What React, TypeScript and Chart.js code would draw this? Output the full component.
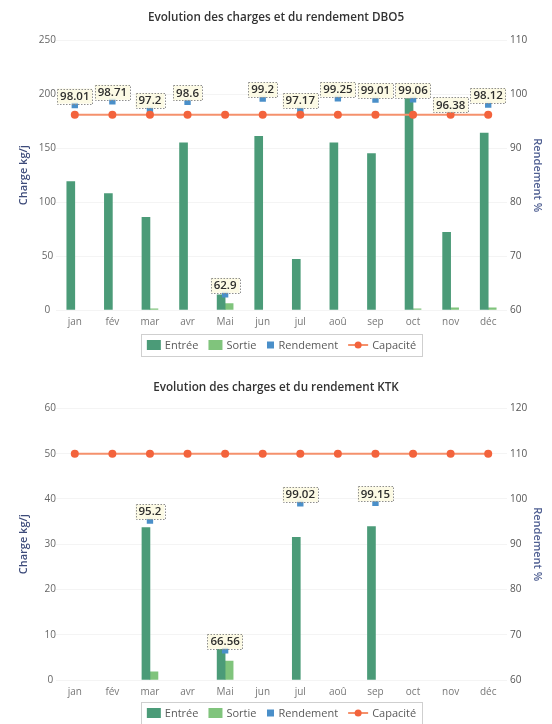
import React, { useEffect, useRef } from "react";
import { Chart, registerables } from "chart.js";

Chart.register(...registerables);

const FONT = "'Open Sans', 'DejaVu Sans', sans-serif";
Chart.defaults.font.family = FONT;

// Months
const months = ["jan", "fév", "mar", "avr", "Mai", "jun", "jul", "aoû", "sep", "oct", "nov", "déc"];

// DBO5 (kg/j and %)
const dbo5Entree = [119, 108, 86, 155, 14, 161, 47, 155, 145, 196, 72, 164];
const dbo5Sortie = [null, null, 1, null, 6, null, null, null, null, 1, 2, 2];
const dbo5Rendement = [98.01, 98.71, 97.2, 98.6, 62.9, 99.2, 97.17, 99.25, 99.01, 99.06, 96.38, 98.12];
const dbo5Capacite = [181, 181, 181, 181, 181, 181, 181, 181, 181, 181, 181, 181];
const dbo5ChargeTicks = [0, 50, 100, 150, 200, 250];
const dbo5RendementTicks = [60, 70, 80, 90, 100, 110];

// KTK (kg/j and %)
const ktkEntree = [null, null, 33.7, null, 6.8, null, 31.5, null, 33.9, null, null, null];
const ktkSortie = [null, null, 1.8, null, 4.2, null, null, null, null, null, null, null];
const ktkRendement = [null, null, 95.2, null, 66.56, null, 99.02, null, 99.15, null, null, null];
const ktkCapacite = [50, 50, 50, 50, 50, 50, 50, 50, 50, 50, 50, 50];
const ktkChargeTicks = [0, 10, 20, 30, 40, 50, 60];
const ktkRendementTicks = [60, 70, 80, 90, 100, 110, 120];

const ENTREE = "#4b9b78";
const SORTIE = "#80c47c";
const RENDEMENT = "#4a8fc9";
const CAP_LINE = "#f5916c";
const CAP_POINT = "#f3633c";

const WIDTH = 536;

// Framed legend drawn under the plot
const boxLegend = {
  id: "boxLegend",
  afterDraw(chart: any, _args: any, opts: any) {
    const { ctx, chartArea } = chart;
    const items = opts.items as { label: string; kind: string; color: string }[];
    ctx.save();
    ctx.font = `11px ${FONT}`;
    const swatchW = (k: string) => (k === "bar" ? 14 : k === "square" ? 8 : 20);
    const gap = 4;
    const spacing = 10;
    let total = 0;
    items.forEach((it, i) => {
      total += swatchW(it.kind) + gap + ctx.measureText(it.label).width;
      if (i < items.length - 1) total += spacing;
    });
    const cx = (chartArea.left + chartArea.right) / 2 + (opts.dx || 0);
    const y = chartArea.bottom + opts.offsetY;
    let x = cx - total / 2;
    ctx.strokeStyle = "#cfcfcf";
    ctx.lineWidth = 1;
    ctx.strokeRect(Math.round(x - 6) + 0.5, Math.round(y - 11) + 0.5, Math.round(total + 12), 22);
    ctx.textBaseline = "middle";
    ctx.textAlign = "left";
    items.forEach((it) => {
      const w = swatchW(it.kind);
      if (it.kind === "bar") {
        ctx.fillStyle = it.color;
        ctx.fillRect(x, y - 5, 14, 10);
      } else if (it.kind === "square") {
        ctx.fillStyle = it.color;
        ctx.fillRect(x + 0.5, y - 3.5, 7, 7);
      } else {
        ctx.strokeStyle = CAP_LINE;
        ctx.lineWidth = 2;
        ctx.beginPath();
        ctx.moveTo(x, y);
        ctx.lineTo(x + 20, y);
        ctx.stroke();
        ctx.fillStyle = it.color;
        ctx.beginPath();
        ctx.arc(x + 10, y, 3.5, 0, Math.PI * 2);
        ctx.fill();
      }
      x += w + gap;
      ctx.fillStyle = "#5a5a5a";
      ctx.fillText(it.label, x, y + 0.5);
      x += ctx.measureText(it.label).width + spacing;
    });
    ctx.restore();
  },
};

// Value tags above the efficiency points
const valueTags = {
  id: "valueTags",
  afterDatasetsDraw(chart: any, _args: any, opts: any) {
    const { ctx } = chart;
    const meta = chart.getDatasetMeta(opts.datasetIndex);
    const data = chart.data.datasets[opts.datasetIndex].data;
    ctx.save();
    ctx.font = `600 11.5px ${FONT}`;
    meta.data.forEach((pt: any, i: number) => {
      const v = data[i];
      if (v === null || v === undefined) return;
      const text = String(v);
      const w = ctx.measureText(text).width + 6;
      const h = 15;
      const cy = pt.y - 9;
      const left = pt.x - w / 2;
      ctx.fillStyle = "rgba(252, 250, 228, 0.95)";
      ctx.fillRect(left, cy - h / 2, w, h);
      ctx.setLineDash([1.5, 1.5]);
      ctx.strokeStyle = "#8f8f8f";
      ctx.lineWidth = 1;
      ctx.strokeRect(Math.round(left) + 0.5, Math.round(cy - h / 2) + 0.5, Math.round(w), h);
      ctx.setLineDash([]);
      ctx.fillStyle = "#2e2e2e";
      ctx.textAlign = "center";
      ctx.textBaseline = "middle";
      ctx.fillText(text, pt.x, cy + 0.5);
    });
    ctx.restore();
  },
};

type Params = {
  title: string;
  entree: (number | null)[];
  sortie: (number | null)[];
  rendement: (number | null)[];
  capacite: number[];
  chargeTicks: number[];
  rendementTicks: number[];
  height: number;
  titleBottom: number;
  bottomPad: number;
  legendOffset: number;
};

function buildConfig(p: Params): any {
  const step = (t: number[]) => t[1] - t[0];
  return {
    data: {
      labels: months,
      datasets: [
        {
          type: "bar",
          label: "Entrée",
          data: p.entree,
          backgroundColor: ENTREE,
          yAxisID: "y",
          barThickness: 8,
          categoryPercentage: 0.6,
          order: 3,
        },
        {
          type: "bar",
          label: "Sortie",
          data: p.sortie,
          backgroundColor: SORTIE,
          yAxisID: "y",
          barThickness: 8,
          categoryPercentage: 0.6,
          order: 3,
        },
        {
          type: "line",
          label: "Rendement",
          data: p.rendement,
          yAxisID: "y1",
          showLine: false,
          pointStyle: "rect",
          pointRadius: 4.5,
          backgroundColor: RENDEMENT,
          borderColor: RENDEMENT,
          pointBorderWidth: 0,
          order: 2,
        },
        {
          type: "line",
          label: "Capacité",
          data: p.capacite,
          yAxisID: "y",
          borderColor: CAP_LINE,
          borderWidth: 2,
          pointRadius: 4,
          pointBackgroundColor: CAP_POINT,
          pointBorderWidth: 0,
          order: 1,
        },
      ],
    },
    options: {
      responsive: false,
      animation: false,
      layout: { padding: { left: 0, right: 0, top: 0, bottom: p.bottomPad } },
      plugins: {
        legend: { display: false },
        tooltip: { enabled: false },
        title: {
          display: true,
          text: p.title,
          color: "#333",
          font: { size: 11.7, weight: "600", family: FONT },
          padding: { top: 3, bottom: p.titleBottom },
        },
        boxLegend: {
          offsetY: p.legendOffset,
          items: [
            { label: "Entrée", kind: "bar", color: ENTREE },
            { label: "Sortie", kind: "bar", color: SORTIE },
            { label: "Rendement", kind: "square", color: RENDEMENT },
            { label: "Capacité", kind: "line", color: CAP_POINT },
          ],
        },
        valueTags: { datasetIndex: 2 },
      },
      scales: {
        x: {
          offset: true,
          grid: { display: false, drawTicks: false },
          border: { display: false },
          ticks: { color: "#777", font: { size: 10 }, padding: 6, maxRotation: 0 },
          afterFit: (s: any) => {
            s.height = 20;
          },
        },
        y: {
          position: "left",
          min: p.chargeTicks[0],
          max: p.chargeTicks[p.chargeTicks.length - 1],
          ticks: { stepSize: step(p.chargeTicks), color: "#666", font: { size: 10 }, padding: 0, crossAlign: "center" },
          grid: { color: "rgba(0,0,0,0.045)", drawTicks: false },
          border: { display: false },
          title: {
            display: true,
            text: "Charge kg/j",
            color: "#3d4b7a",
            font: { size: 11, weight: "600" },
            padding: { top: 9.4, bottom: 0 },
          },
          afterFit: (s: any) => {
            s.width = 48;
          },
        },
        y1: {
          position: "right",
          min: p.rendementTicks[0],
          max: p.rendementTicks[p.rendementTicks.length - 1],
          ticks: { stepSize: step(p.rendementTicks), color: "#555", font: { size: 10 }, padding: 3 },
          grid: { display: false, drawTicks: false },
          border: { display: false },
          title: {
            display: true,
            text: "Rendement %",
            color: "#4f5f92",
            font: { size: 11, weight: "600" },
            padding: { top: 0, bottom: 0 },
          },
          afterFit: (s: any) => {
            s.width = 37;
          },
        },
      },
    },
    plugins: [boxLegend, valueTags],
  };
}

function ComboChart(props: Params) {
  const ref = useRef<HTMLCanvasElement>(null);
  useEffect(() => {
    const chart = new Chart(ref.current as HTMLCanvasElement, buildConfig(props));
    return () => chart.destroy();
  }, []);
  return (
    <canvas
      ref={ref}
      width={WIDTH}
      height={props.height}
      style={{ display: "block", width: WIDTH, height: props.height }}
    />
  );
}

export default function App() {
  return (
    <div
      style={{
        position: "fixed",
        left: 0,
        top: 0,
        width: 552,
        height: 724,
        overflow: "hidden",
        background: "#fff",
      }}
    >
      <div style={{ position: "absolute", left: 8, top: 8 }}>
        <ComboChart
          title="Evolution des charges et du rendement DBO5"
          entree={dbo5Entree}
          sortie={dbo5Sortie}
          rendement={dbo5Rendement}
          capacite={dbo5Capacite}
          chargeTicks={dbo5ChargeTicks}
          rendementTicks={dbo5RendementTicks}
          height={370}
          titleBottom={15.4}
          bottomPad={48}
          legendOffset={35}
        />
      </div>
      <div style={{ position: "absolute", left: 8, top: 378 }}>
        <ComboChart
          title="Evolution des charges et du rendement KTK"
          entree={ktkEntree}
          sortie={ktkSortie}
          rendement={ktkRendement}
          capacite={ktkCapacite}
          chargeTicks={ktkChargeTicks}
          rendementTicks={ktkRendementTicks}
          height={346}
          titleBottom={13.4}
          bottomPad={24}
          legendOffset={33}
        />
      </div>
    </div>
  );
}
